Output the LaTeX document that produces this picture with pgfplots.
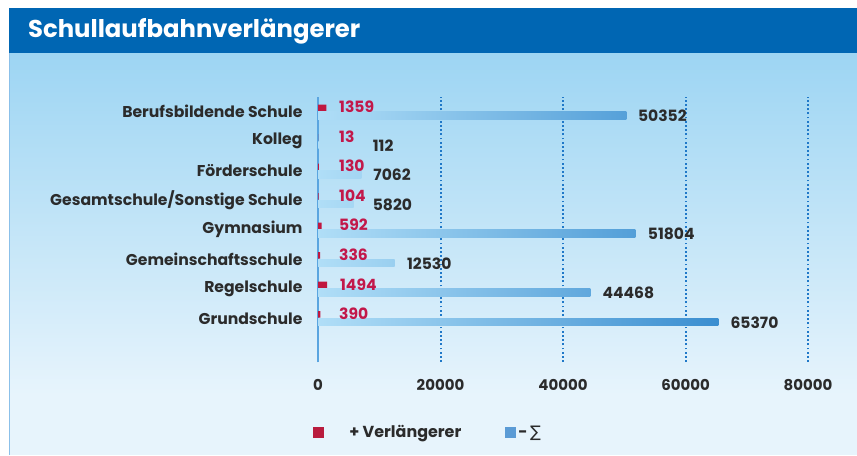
\documentclass[border=0pt]{standalone}
\usepackage{pgfplots}
\pgfplotsset{compat=1.18}
\usepackage{pgfplotstable}
\usepackage{fontspec}
\setmainfont{Poppins}
\newfontfamily\djv{DejaVu Sans}
\definecolor{banner}{HTML}{0066B3}
\definecolor{bgtop}{HTML}{9DD5F3}
\definecolor{bgbot}{HTML}{E7F4FC}
\definecolor{redbar}{HTML}{C0173F}
\definecolor{redtxt}{HTML}{C2184A}
\definecolor{blight}{HTML}{B0DEF7}
\definecolor{bdark}{HTML}{3A8ED0}
\definecolor{gridblue}{HTML}{1F78C8}
\definecolor{axblue}{HTML}{5AA5E0}
\definecolor{txt}{HTML}{2B2B2B}
\definecolor{legblue}{HTML}{5B9BD5}
\definecolor{legred}{HTML}{B81B3D}

\pgfplotstableread{
cat val dx
7 1359 12.7
6 13 20.9
5 130 20.2
4 104 20.4
3 592 17.4
2 336 18.9
1 1494 12.8
0 390 18.6
}\redtab

\pgfplotsset{
  bluebar/.style={xbar, bar width=7.5bp, bar shift=-3.9bp, draw=none, forget plot,
    nodes near coords, point meta=explicit symbolic,
    nodes near coords style={anchor=west, inner sep=0pt, text=txt, yshift=-4.4bp,
      font=\fontsize{15.6}{18}\selectfont\bfseries}},
}

\begin{document}
\begin{tikzpicture}
\fill[white] (0,0) rectangle (857bp,-455bp);
\fill[bgbot] (9bp,-53bp) rectangle (857bp,-455bp);
\shade[top color=bgtop, bottom color=bgbot] (9bp,-53bp) rectangle (857bp,-395bp);
\draw[axblue!70, line width=0.8bp] (9.4bp,-53bp) -- (9.4bp,-455bp);
\fill[banner] (9bp,-8bp) rectangle (857bp,-53bp);
\node[anchor=west, text=white, font=\fontsize{24.4}{28}\selectfont\bfseries, inner sep=0pt]
  at (28bp,-31bp) {Schullaufbahnverlängerer};

\begin{axis}[
  at={(318bp,-362bp)}, anchor=south west,
  scale only axis, width=490bp, height=265bp,
  xmin=0, xmax=80000, ymin=-1.48, ymax=7.5,
  axis lines*=left,
  x axis line style={draw=none},
  y axis line style={draw=axblue, line width=1.6bp},
  xtick={0,20000,40000,60000,80000},
  xticklabels={0,20000,40000,60000,80000},
  scaled x ticks=false,
  major tick length=0pt,
  xmajorgrids,
  major grid style={gridblue, line width=2bp, dash pattern=on 1.8bp off 2.4bp},
  ytick={0,1,2,3,4,5,6,7},
  yticklabels={Grundschule,Regelschule,Gemeinschaftsschule,Gymnasium,Gesamtschule/Sonstige Schule,Förderschule,Kolleg,Berufsbildende Schule},
  yticklabel style={text=txt, font=\fontsize{15.7}{18}\selectfont\bfseries, xshift=-12bp},
  xticklabel style={text=txt, font=\fontsize{15}{18}\selectfont\bfseries, yshift=-14bp},
  /pgf/number format/assume math mode=true,
  clip=false,
  legend style={at={(-0.0097,-0.2655)}, anchor=west, draw=none, fill=none,
    inner sep=0pt, font=\fontsize{16}{18}\selectfont\bfseries, text=txt,
    nodes={inner sep=0pt},
    /tikz/every even column/.append style={column sep=44bp}},
  legend columns=2,
  legend cell align=left,
]
% red series
\addplot[xbar, bar width=6.5bp, bar shift=3.9bp, fill=redbar, draw=none, forget plot,
  nodes near coords, point meta=explicit symbolic,
  visualization depends on={\thisrow{dx} \as \dx},
  nodes near coords style={anchor=west, inner sep=0pt, xshift=\dx bp, yshift=4.6bp, text=redtxt,
    font=\fontsize{15.6}{18}\selectfont\bfseries}]
  table[x=val, y=cat, meta=val] {\redtab};
% blue series (Summe), one bar each for the horizontal gradient
\addplot[bluebar, left color=blight, right color=bdark!77!blight, nodes near coords style={xshift=11.5bp}] coordinates {(50352,7) [50352]};
\addplot[bluebar, left color=blight, right color=blight, nodes near coords style={xshift=54bp}] coordinates {(112,6) [112]};
\addplot[bluebar, left color=blight, right color=bdark!11!blight, nodes near coords style={xshift=12bp}] coordinates {(7062,5) [7062]};
\addplot[bluebar, left color=blight, right color=bdark!9!blight, nodes near coords style={xshift=19bp}] coordinates {(5820,4) [5820]};
\addplot[bluebar, left color=blight, right color=bdark!79!blight, nodes near coords style={xshift=12.4bp}] coordinates {(51804,3) [51804]};
\addplot[bluebar, left color=blight, right color=bdark!19!blight, nodes near coords style={xshift=12.2bp}] coordinates {(12530,2) [12530]};
\addplot[bluebar, left color=blight, right color=bdark!68!blight, nodes near coords style={xshift=12bp}] coordinates {(44468,1) [44468]};
\addplot[bluebar, left color=blight, right color=bdark, nodes near coords style={xshift=12bp}] coordinates {(65370,0) [65370]};

\addlegendimage{legend image code/.code={\fill[legred] (0bp,-5bp) rectangle (9.5bp,5bp);}}
\addlegendentry{\hspace*{26bp}+ Verlängerer}
\addlegendimage{legend image code/.code={\fill[legblue] (0bp,-5bp) rectangle (9.5bp,5bp);}}
\addlegendentry{\hspace*{3bp}-\,{\djv\mdseries ∑}}
\end{axis}
\end{tikzpicture}
\end{document}
